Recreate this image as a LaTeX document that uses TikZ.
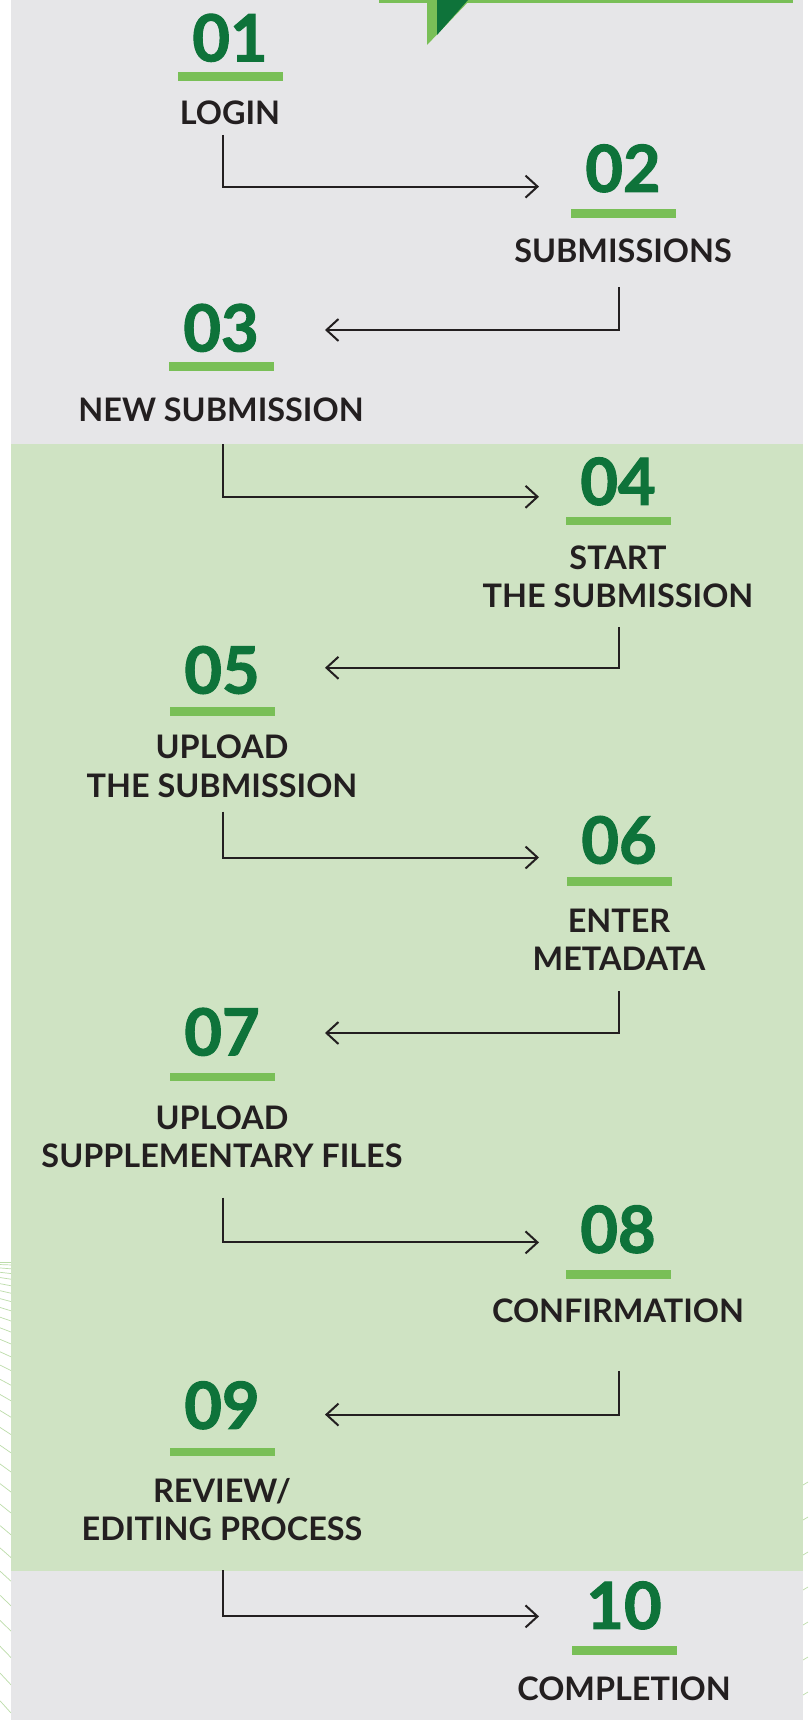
\documentclass[tikz,border=0pt]{standalone}
\usepackage{fontspec}
\setmainfont{Lato}
\newfontfamily\numfamily{Lato}[BoldFeatures={FakeBold=1.6}]
\usetikzlibrary{arrows.meta}
\definecolor{panelgray}{HTML}{E6E6E8}
\definecolor{bandgreen}{HTML}{CFE3C3}
\definecolor{numgreen}{HTML}{0E733A}
\definecolor{bargreen}{HTML}{79BF57}
\definecolor{ink}{HTML}{231F20}
\definecolor{hatch}{HTML}{BCDCA9}
\newcommand\numfnt{\numfamily\fontsize{65}{65}\selectfont\bfseries}
\newcommand\lblfnt{\fontsize{32.4}{38.4}\selectfont\bfseries}
\begin{document}
\begin{tikzpicture}[x=1pt,y=-1pt,
  stepnum/.style={font=\numfnt, text=numgreen, inner sep=0pt},
  stepbar/.style={fill=bargreen, minimum width=105pt, minimum height=8.8pt, inner sep=0pt},
  steplbl/.style={font=\lblfnt, text=ink, align=center, inner sep=0pt},
  conn/.style={draw=ink, line width=2pt, -{Straight Barb[length=12pt,width=22pt,line width=2pt]}},
  hatchline/.style={draw=hatch, line width=0.7pt}]
\useasboundingbox (0,0) rectangle (808,1720);
\fill[white] (0,0) rectangle (808,1720);
% thin decorative strokes in the side margins
\foreach \i in {0,...,30} {
  \pgfmathsetmacro\yy{1262+2.5*\i+0.45*\i*\i}
  \pgfmathsetmacro\dd{0.42*\i}
  \draw[hatchline] (0,\yy-\dd) -- (11,\yy);
}
\foreach \yy in {1485,1520,...,1720}
  \draw[hatchline] (803,\yy) -- (808,\yy-3);
% panel and highlighted band
\fill[panelgray] (11,0) rectangle (803,1720);
\fill[bandgreen] (11,444) rectangle (803,1571);
% header tab with pointer
\fill[bargreen] (379,0) rectangle (793,3.5);
\fill[bargreen] (427,0) -- (427,45) -- (470,0) -- cycle;
\fill[numgreen] (437,0) -- (437,35) -- (468,0) -- cycle;
% steps: number, bar, caption
\foreach \n/\x/\ny/\by/\ly/\txt in {
  01/230/37.8/76.8/113/{LOGIN},
  02/623/168.4/213.8/251.1/{SUBMISSIONS},
  03/221/327.9/366.3/409.6/{NEW SUBMISSION},
  04/618/481.4/520.9/576.8/{START\\THE SUBMISSION},
  05/222/670/711.7/766.2/{UPLOAD\\THE SUBMISSION},
  06/619/840/881.7/939.8/{ENTER\\METADATA},
  07/222/1031.9/1076.9/1136.6/{UPLOAD\\SUPPLEMENTARY FILES},
  08/618/1229.3/1274.2/1310.4/{CONFIRMATION},
  09/222/1405.3/1451.9/1509.4/{REVIEW/\\EDITING PROCESS},
  10/624/1605.4/1650.4/1688.8/{COMPLETION}} {
  \node[stepnum] (n\n) at (\x,\ny) {\n};
  \node[stepbar] (b\n) at (\x,\by) {};
  \node[steplbl] (t\n) at (\x,\ly) {\txt};
}
% connector end points
\coordinate (c1a) at (222.6,134.9);  \coordinate (c1b) at (539,186.6);
\coordinate (c2a) at (618.5,287.3);  \coordinate (c2b) at (325,330);
\coordinate (c3a) at (222.6,444);    \coordinate (c3b) at (539,496.8);
\coordinate (c4a) at (618.5,627.3);  \coordinate (c4b) at (325,667.8);
\coordinate (c5a) at (222.6,811.5);  \coordinate (c5b) at (539,857.5);
\coordinate (c6a) at (618.5,991.3);  \coordinate (c6b) at (325,1033);
\coordinate (c7a) at (222.6,1197.5); \coordinate (c7b) at (539,1242.4);
\coordinate (c8a) at (618.5,1370.8); \coordinate (c8b) at (325,1414.6);
\coordinate (c9a) at (222.6,1570.3); \coordinate (c9b) at (539,1616.4);
\foreach \k in {1,...,9}
  \draw[conn] (c\k a) |- (c\k b);
\end{tikzpicture}
\end{document}
